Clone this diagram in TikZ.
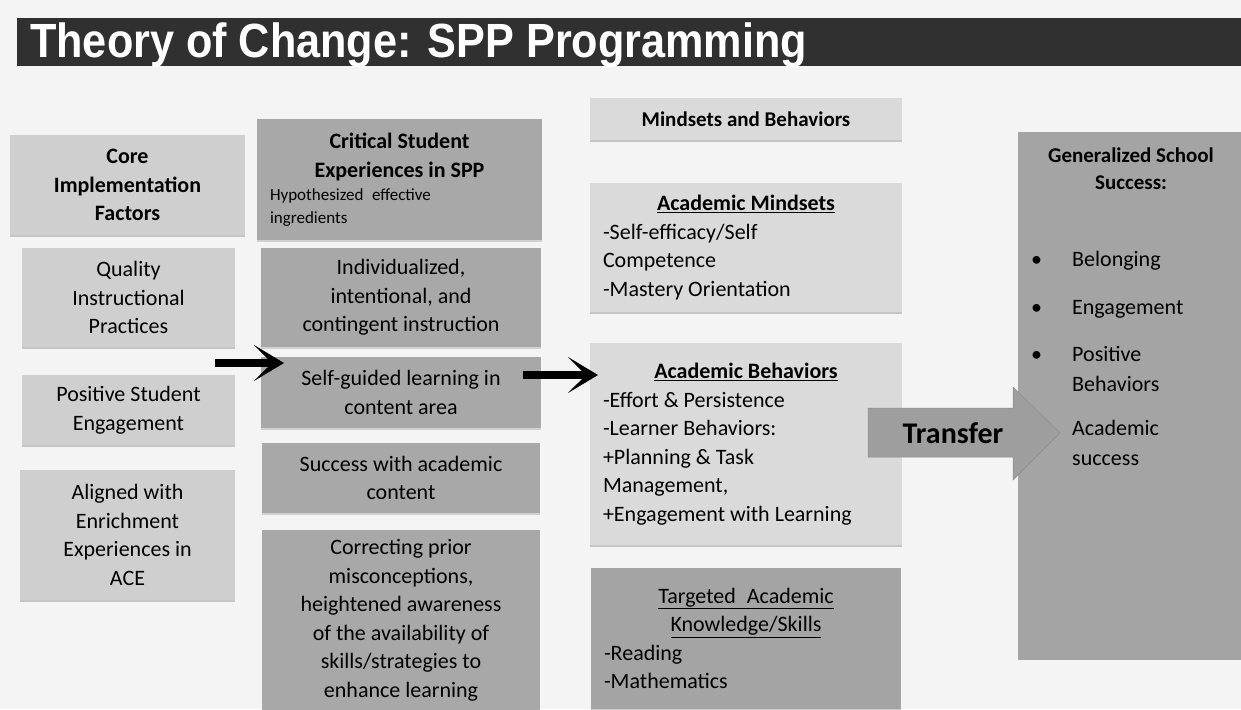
\documentclass[tikz,border=0pt]{standalone}
\usepackage{fontspec}
\setmainfont{Carlito}
\newfontfamily\titlefont[FakeStretch=0.9]{Liberation Sans}
\usepackage{tikz}
\usetikzlibrary{shapes.geometric, arrows, arrows.meta, shadows}
\setlength{\parindent}{0pt}
\newcommand{\txt}{\fontsize{22}{28.5}\selectfont}
\definecolor{paper}{HTML}{F4F4F4}
\definecolor{bargray}{HTML}{303030}
\definecolor{factorgray}{HTML}{CFCFCF}
\definecolor{ingredgray}{HTML}{A8A8A8}
\definecolor{outgray}{HTML}{DADADA}
\definecolor{goalgray}{HTML}{A4A4A4}
\definecolor{transfergray}{HTML}{9E9E9E}
\tikzstyle{factor} = [rectangle, fill=factorgray, inner sep=0pt, align=center, font=\txt, drop shadow={shadow xshift=0pt, shadow yshift=-2pt, opacity=0.4}]
\tikzstyle{ingred} = [rectangle, fill=ingredgray, inner sep=0pt, align=center, font=\txt, drop shadow={shadow xshift=0pt, shadow yshift=-2pt, opacity=0.3}]
\tikzstyle{outcome} = [rectangle, fill=outgray, inner xsep=13pt, inner ysep=0pt, font=\txt, drop shadow={shadow xshift=0pt, shadow yshift=-2pt, opacity=0.4}]
\tikzstyle{arrow} = [line width=8pt, -{Stealth[length=30pt, width=36pt, inset=18pt]}]

\begin{document}
\begin{tikzpicture}[x=1pt, y=-1pt]
    \useasboundingbox (0,0) rectangle (1241,709);
    \fill[paper] (0,0) rectangle (1241,709);

    % title bar
    \node[fill=bargray, minimum width=1224pt, minimum height=48pt, inner sep=0pt, anchor=north west] (bar) at (17,18) {};
    \node[anchor=base west, inner sep=0pt, text=white, font=\titlefont\bfseries\fontsize{48}{48}\selectfont] (title) at (30,58) {Theory of Change: SPP Programming};

    % implementation factors
    \node[factor, minimum width=235pt, minimum height=100pt, font=\txt\bfseries] (core) at (127.5,185) {Core\\Implementation\\Factors};
    \node[factor, minimum width=213pt, minimum height=99pt] (qual) at (128.5,297.5) {Quality\\Instructional\\Practices};
    \node[factor, minimum width=213pt, minimum height=70pt] (engage) at (128.5,410) {Positive Student\\Engagement};
    \node[factor, minimum width=215pt, minimum height=130pt] (ace) at (127.5,535) {Aligned with\\Enrichment\\Experiences in\\ACE};

    % student experiences
    \node[ingred, minimum width=285pt, minimum height=121pt, inner xsep=13pt, text width=259pt, align=flush left] (crit) at (399.5,179.5)
        {{\centering\bfseries Critical Student\\Experiences in SPP\par}{\fontsize{17}{23}\selectfont Hypothesized\enspace effective\\ingredients\par}};
    \node[ingred, minimum width=280pt, minimum height=99pt] (indiv) at (401,297.5) {Individualized,\\intentional, and\\contingent instruction};
    \node[ingred, minimum width=280pt, minimum height=71pt] (self) at (401,392.5) {Self-guided learning in\\content area};
    \node[ingred, minimum width=278pt, minimum height=70pt] (succ) at (401,478) {Success with academic\\content};
    \node[ingred, minimum width=278pt, minimum height=181pt] (misc) at (401,620.5) {Correcting prior\\misconceptions,\\heightened awareness\\of the availability of\\skills/strategies to\\enhance learning};

    % mindsets and behaviors
    \node[outcome, minimum width=312pt, minimum height=42pt, font=\fontsize{21}{26}\selectfont\bfseries] (mb) at (746,119) {Mindsets and Behaviors};
    \node[outcome, minimum width=312pt, minimum height=129pt, text width=286pt, align=flush left] (mind) at (746,247.5)
        {{\centering\bfseries\underline{Academic Mindsets}\par}-Self-efficacy/Self\\Competence\\-Mastery Orientation};
    \node[outcome, minimum width=312pt, minimum height=202pt, text width=286pt, align=flush left] (behav) at (746,444)
        {{\centering\bfseries\underline{Academic Behaviors}\par}-Effort \& Persistence\\-Learner Behaviors:\\+Planning \& Task\\Management,\\+Engagement with Learning};
    \node[outcome, fill=goalgray, minimum width=310pt, minimum height=141pt, text width=284pt, align=flush left] (skills) at (746,638.5)
        {{\centering\underline{Targeted\enspace Academic}\\\underline{Knowledge/Skills}\par}-Reading\\-Mathematics};

    % school success
    \node[rectangle, fill=goalgray, minimum width=223pt, minimum height=528pt, inner sep=0pt] (gen) at (1129.5,396) {};
    \node[font=\fontsize{21}{27}\selectfont\bfseries, align=center, inner sep=0pt] (genhead) at (1131,169) {Generalized School\\Success:};
    \node[anchor=north west, inner sep=0pt, font=\fontsize{22}{29.5}\selectfont] (list) at (1031,246)
        {\begin{tabular}{@{}p{41pt}@{}l@{}}
        \textbullet & Belonging\\[18pt]
        \textbullet & Engagement\\[18pt]
        \textbullet & Positive\\
         & Behaviors\\[15pt]
         & Academic\\
         & success
        \end{tabular}};

    % transfer
    \filldraw[fill=transfergray, draw=gray!90, line width=0.5pt] (868,408) -- (1013,408) -- (1013,387) -- (1060,433) -- (1013,480) -- (1013,457) -- (868,457) -- cycle;
    \node[inner sep=0pt, font=\fontsize{30}{30}\selectfont\bfseries] (trans) at (953,433) {Transfer};

    % arrows
    \coordinate (in1) at (215,363);
    \coordinate (in2) at (284,363);
    \coordinate (out1) at (523,375);
    \coordinate (out2) at (598,375);
    \draw[arrow] (in1) -- (in2);
    \draw[arrow] (out1) -- (out2);
\end{tikzpicture}
\end{document}
